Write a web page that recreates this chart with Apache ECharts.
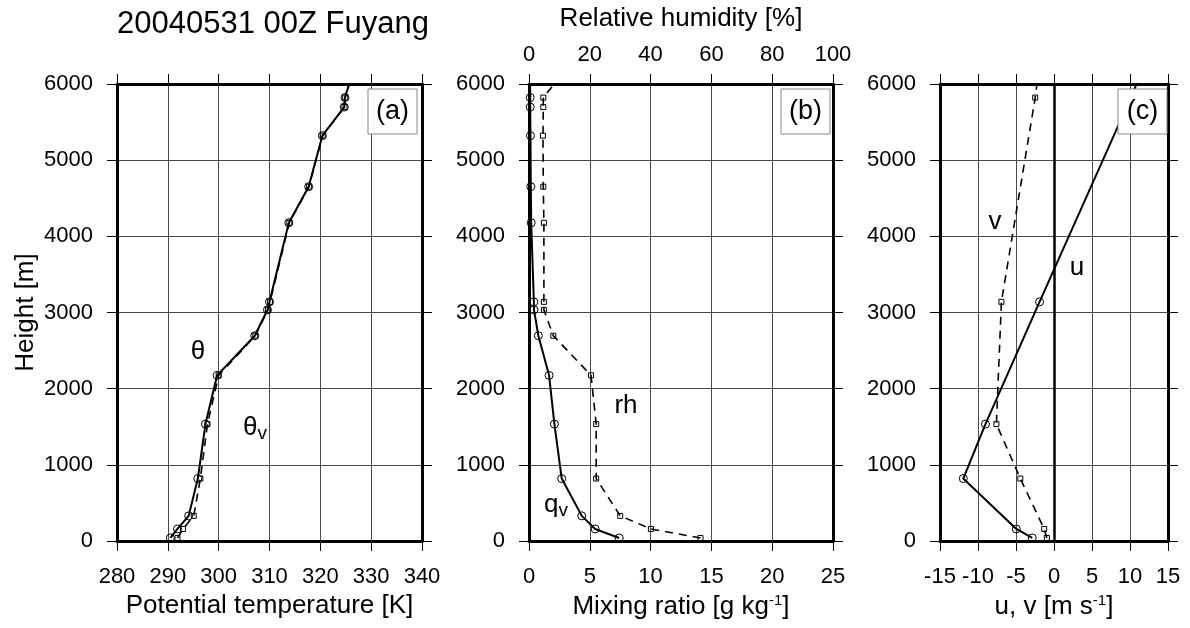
<!DOCTYPE html>
<html>
<head>
<meta charset="utf-8">
<script src="https://cdn.jsdelivr.net/npm/echarts@6/dist/echarts.min.js"></script>
<style>
html,body{margin:0;padding:0;background:#fff;}
#chart{width:1190px;height:628px;}
</style>
</head>
<body>
<div id="chart"></div>
<script>
// ---- data ----
const TITLE = '20040531 00Z Fuyang';
// sounding levels (m); last level lies above the plotted range
const HEIGHTS  = [40, 158, 330, 820, 1535, 2175, 2695, 3035, 3140, 4178, 4652, 5322, 5697, 5822, 6100];
const THETA    = [290.5, 291.9, 294.1, 295.9, 297.4, 299.7, 307.1, 309.6, 310.0, 313.8, 317.7, 320.4, 324.7, 324.85, 326.1];
const THETA_V  = [291.9, 293.0, 295.1, 296.4, 297.8, 300.0, 307.2, 309.7, 310.1, 313.9, 317.75, 320.45, 324.75, 324.9, 326.15];
const QV       = [7.42, 5.44, 4.34, 2.69, 2.09, 1.65, 0.77, 0.41, 0.40, 0.18, 0.15, 0.12, 0.10, 0.10, 0.08];
const RH       = [56.4, 40.1, 30.0, 22.1, 22.1, 20.4, 8.0, 4.9, 4.9, 4.9, 4.7, 4.6, 4.7, 4.7, 10.3];
// wind levels (m)
const WIND_HEIGHTS = [40, 158, 820, 1535, 3140, 5822, 6100];
const U = [-2.86, -4.96, -11.94, -9.02, -1.9, 10.1, 11.3];
const V = [-0.94, -1.29, -4.43, -7.58, -6.92, -2.47, -2.12];
// axis ranges [min, max, interval]
const HEIGHT_AXIS = [0, 6000, 1000];
const THETA_AXIS  = [280, 340, 10];
const Q_AXIS      = [0, 25, 5];
const RH_AXIS     = [0, 100, 20];
const WIND_AXIS   = [-15, 15, 5];

const FONT = '"Liberation Sans", Arial, Helvetica, sans-serif';
const pairs = (xs, ys) => xs.map((x, i) => [x, ys[i]]);
const plain = v => String(v);

function xAx(grid, pos, r, opts) {
  opts = opts || {};
  return {
    type: 'value', gridIndex: grid, position: pos,
    min: r[0], max: r[1], interval: r[2],
    axisLine: {show: true, onZero: false, lineStyle: {color: '#000', width: 3}},
    axisTick: {show: true, inside: false, length: 10, lineStyle: {color: '#000', width: 1}},
    axisLabel: {show: !!opts.label, color: '#000', fontSize: 22, fontFamily: FONT, margin: opts.margin || 14,
      showMinLabel: true, showMaxLabel: true, formatter: plain},
    splitLine: {show: !!opts.split, lineStyle: {color: '#4a4a4a', width: 1}},
    name: opts.name || '', nameLocation: 'middle', nameGap: opts.nameGap || 40,
    nameTextStyle: {color: '#000', fontSize: 26, fontFamily: FONT,
      rich: {sup: {fontSize: 15, verticalAlign: 'top', padding: [0, 0, 13, 0], fontFamily: FONT, color: '#000'}}}
  };
}
function yAx(grid, pos, r, opts) {
  opts = opts || {};
  return {
    type: 'value', gridIndex: grid, position: pos,
    min: r[0], max: r[1], interval: r[2],
    axisLine: {show: true, onZero: false, lineStyle: {color: '#000', width: 3}},
    axisTick: {show: true, inside: false, length: 10, lineStyle: {color: '#000', width: 1}},
    axisLabel: {show: !!opts.label, color: '#000', fontSize: 22, fontFamily: FONT, margin: 24, formatter: plain},
    splitLine: {show: !!opts.split, lineStyle: {color: '#4a4a4a', width: 1}},
    name: opts.name || '', nameLocation: 'middle', nameGap: opts.nameGap || 60,
    nameTextStyle: {color: '#000', fontSize: 26, fontFamily: FONT}
  };
}

const solid = {color: '#000', width: 2, type: 'solid'};
const dashed = {color: '#000', width: 1.6, type: [8, 6]};
function ser(name, xi, yi, data, dash, symbol, size) {
  return {
    name: name, type: 'line', xAxisIndex: xi, yAxisIndex: yi, data: data,
    clip: true, animation: false, silent: true, z: 2,
    lineStyle: dash ? dashed : solid,
    symbol: symbol, symbolSize: size, showSymbol: true,
    itemStyle: {color: 'rgba(0,0,0,0)', borderColor: '#000', borderWidth: 1}
  };
}

const chart = echarts.init(document.getElementById('chart'), null, {renderer: 'canvas'});

const labelBox = (x, t) => ([
  {type: 'rect', z: 100, zlevel: 0, shape: {x: x, y: 89, width: 49, height: 45}, style: {fill: '#fff', stroke: '#888', lineWidth: 1}},
  {type: 'text', z: 101, zlevel: 0, x: x + 24.5, y: 112, style: {text: t, font: '27px ' + FONT, fill: '#000', align: 'center', verticalAlign: 'middle'}}
]);
const txt = (x, y, t, size) => ({type: 'text', x: x, y: y, z: 100,
  style: {text: t, font: (size || 26) + 'px ' + FONT, fill: '#000', align: 'center', verticalAlign: 'middle'}});
const subTxt = (x, y, a, b) => ({type: 'text', x: x, y: y, z: 100, style: {text: '{a|' + a + '}{b|' + b + '}', verticalAlign: 'middle', align: 'center',
  rich: {a: {font: '26px ' + FONT, fill: '#000'}, b: {font: '19px ' + FONT, fill: '#000', verticalAlign: 'bottom', padding: [11, 0, 0, 0]}}}});

const option = {
  animation: false,
  backgroundColor: '#fff',
  textStyle: {fontFamily: FONT},
  grid: [
    {left: 117, top: 84, width: 305, height: 457},
    {left: 529, top: 84, width: 304, height: 457},
    {left: 940, top: 84, width: 228, height: 457}
  ],
  xAxis: [
    xAx(0, 'bottom', THETA_AXIS, {label: true, split: true, margin: 25, name: 'Potential temperature [K]', nameGap: 52}),
    xAx(0, 'top', THETA_AXIS, {}),
    xAx(1, 'bottom', Q_AXIS, {label: true, split: true, margin: 25, name: 'Mixing ratio [g kg{sup|-1}]', nameGap: 52}),
    xAx(1, 'top', RH_AXIS, {label: true, margin: 18, name: 'Relative humidity [%]', nameGap: 52}),
    xAx(2, 'bottom', WIND_AXIS, {label: true, split: true, margin: 25, name: 'u, v [m s{sup|-1}]', nameGap: 52}),
    xAx(2, 'top', WIND_AXIS, {})
  ],
  yAxis: [
    yAx(0, 'left', HEIGHT_AXIS, {label: true, split: true, name: 'Height [m]', nameGap: 78}),
    yAx(0, 'right', HEIGHT_AXIS, {}),
    yAx(1, 'left', HEIGHT_AXIS, {label: true, split: true}),
    yAx(1, 'right', HEIGHT_AXIS, {}),
    yAx(2, 'left', HEIGHT_AXIS, {label: true, split: true}),
    yAx(2, 'right', HEIGHT_AXIS, {})
  ],
  series: [
    ser('theta_v', 0, 0, pairs(THETA_V, HEIGHTS), true, 'rect', 5),
    ser('theta', 0, 0, pairs(THETA, HEIGHTS), false, 'circle', 8),
    ser('rh', 3, 2, pairs(RH, HEIGHTS), true, 'rect', 5),
    ser('qv', 2, 2, pairs(QV, HEIGHTS), false, 'circle', 8),
    ser('v', 4, 4, pairs(V, WIND_HEIGHTS), true, 'rect', 5),
    Object.assign(ser('u', 4, 4, pairs(U, WIND_HEIGHTS), false, 'circle', 8), {
      markLine: {silent: true, symbol: 'none', label: {show: false}, animation: false,
        lineStyle: {color: '#000', width: 2.5, type: 'solid'}, data: [{xAxis: 0}]}
    })
  ],
  graphic: {
    elements: [
      {type: 'text', left: 117, top: 9, z: 100, style: {text: TITLE, font: '31px ' + FONT, fill: '#000'}},
      ...labelBox(368, '(a)'), ...labelBox(781, '(b)'), ...labelBox(1118, '(c)'),
      txt(198, 352, 'θ'),
      subTxt(255, 428, 'θ', 'v'),
      txt(626, 406, 'rh'),
      subTxt(556, 505, 'q', 'v'),
      txt(995, 222, 'v'),
      txt(1077, 268, 'u')
    ]
  }
};
chart.setOption(option);
</script>
</body>
</html>
